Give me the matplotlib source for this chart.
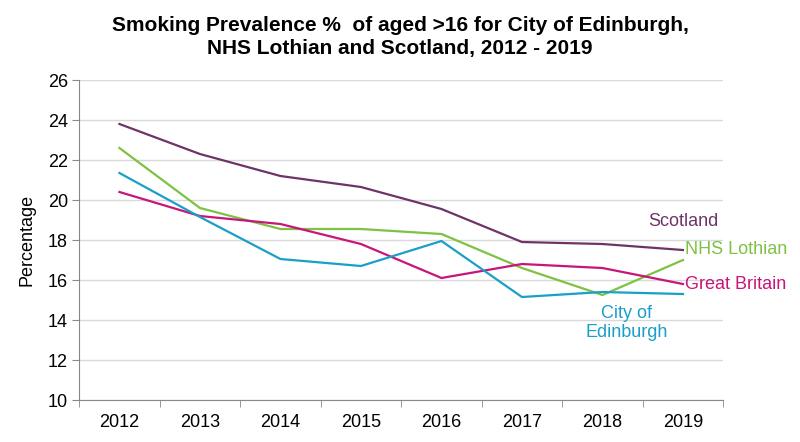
import matplotlib
matplotlib.use("Agg")
import matplotlib.pyplot as plt
import numpy as np

years = ["2012", "2013", "2014", "2015", "2016", "2017", "2018", "2019"]
scotland = [23.8, 22.3, 21.2, 20.65, 19.55, 17.9, 17.8, 17.5]
nhs_lothian = [22.6, 19.6, 18.55, 18.55, 18.3, 16.6, 15.25, 17.0]
great_britain = [20.4, 19.2, 18.8, 17.8, 16.1, 16.8, 16.6, 15.8]
edinburgh = [21.35, 19.15, 17.05, 16.7, 17.95, 15.15, 15.4, 15.3]

plt.rcParams['font.family'] = ['Liberation Sans', 'DejaVu Sans']

fig = plt.figure(figsize=(8, 4.42), dpi=100)
ax = fig.add_axes([0.099, 0.095, 0.805, 0.724])

x = np.arange(len(years))
c_scot = "#6E3468"
c_nhs = "#7DC242"
c_gb = "#C8157A"
c_edi = "#1A9FC9"

ax.plot(x, scotland, color=c_scot, lw=1.6)
ax.plot(x, nhs_lothian, color=c_nhs, lw=1.6)
ax.plot(x, great_britain, color=c_gb, lw=1.6)
ax.plot(x, edinburgh, color=c_edi, lw=1.6)

ax.set_xlim(-0.5, len(years) - 0.5)
ax.set_ylim(10, 26)
ax.set_yticks(np.arange(10, 27, 2))
ax.tick_params(axis='y', labelsize=13, length=5, color="#888888", pad=3)
ax.set_xticks(x)
ax.set_xticklabels(years)
ax.tick_params(axis='x', which='major', length=0, labelsize=13, pad=10)
ax.set_xticks(np.arange(-0.5, len(years), 1), minor=True)
ax.tick_params(axis='x', which='minor', length=5, color="#888888")
ax.grid(axis='y', color="#D9D9D9", lw=1)
ax.set_axisbelow(True)
for s in ['top', 'right']:
    ax.spines[s].set_visible(False)
for s in ['left', 'bottom']:
    ax.spines[s].set_color("#888888")
ax.set_ylabel("Percentage", fontsize=13, labelpad=9)

ax.text(7, 18.95, "Scotland", color=c_scot, fontsize=13, ha='center', va='center')
ax.text(7.03, 17.55, "NHS Lothian", color=c_nhs, fontsize=13, ha='left', va='center')
ax.text(7.03, 15.8, "Great Britain", color=c_gb, fontsize=13, ha='left', va='center')
ax.text(6.3, 13.85, "City of\nEdinburgh", color=c_edi, fontsize=13, ha='center', va='center', linespacing=1.1)

fig.text(0.5, 0.917, "Smoking Prevalence %  of aged >16 for City of Edinburgh,\nNHS Lothian and Scotland, 2012 - 2019",
         ha='center', va='center', fontsize=15, fontweight='bold', linespacing=1.25)

fig.savefig("out.png", dpi=100)
